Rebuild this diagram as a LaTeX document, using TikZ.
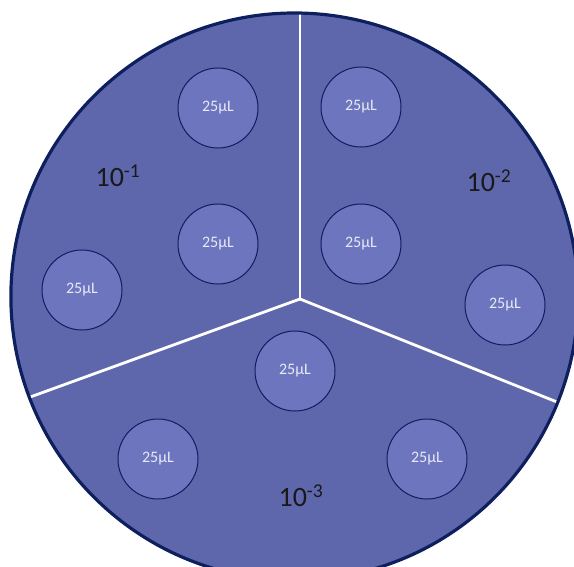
\documentclass[tikz,border=0pt]{standalone}
\usepackage{fontspec}
\usetikzlibrary{calc}
\setmainfont{Carlito}
\definecolor{plate}{HTML}{5E67AC}
\definecolor{well}{HTML}{6C75BE}
\definecolor{navy}{HTML}{0E1F5E}
\definecolor{welltext}{HTML}{E8EAF6}
\begin{document}
\begin{tikzpicture}[x=1pt,y=-1pt,
  wellc/.style={circle,draw=navy,line width=1pt,fill=well,minimum size=80pt,inner sep=0pt,
    text=welltext,font=\fontsize{16}{16}\selectfont},
  dil/.style={font=\fontsize{28}{28}\selectfont,text=black!90},
  sep/.style={draw=white,line width=2.8pt}]
\useasboundingbox (0,0) rectangle (574,566);
\begin{scope}
\clip (0,0) rectangle (574,566);
\fill[plate] (294.5,296.6) circle (283.6);
\begin{scope}
\clip (294.5,296.6) circle (282.5);
\coordinate (j) at (300,299);
\coordinate (et) at (300,-20);
\coordinate (el) at ($(j)!1.3!(33,396)$);
\coordinate (er) at ($(j)!1.3!(557,402)$);
\draw[sep] (j) -- (et);
\draw[sep] (j) -- (el);
\draw[sep] (j) -- (er);
\end{scope}
\draw[navy,line width=3.2pt] (294.5,296.6) circle (283.6);
\end{scope}
\node[wellc] (w1) at (218,108) {25µL};
\node[wellc] (w2) at (361,107) {25µL};
\node[wellc] (w3) at (218,244) {25µL};
\node[wellc] (w4) at (361,244) {25µL};
\node[wellc] (w5) at (82,290) {25µL};
\node[wellc] (w6) at (505,305) {25µL};
\node[wellc] (w7) at (295,371) {25µL};
\node[wellc] (w8) at (158,459) {25µL};
\node[wellc] (w9) at (427,459) {25µL};
\node[dil] (d1) at (118,176) {10\textsuperscript{-1}};
\node[dil] (d2) at (489,181) {10\textsuperscript{-2}};
\node[dil] (d3) at (301,496) {10\textsuperscript{-3}};
\end{tikzpicture}
\end{document}
